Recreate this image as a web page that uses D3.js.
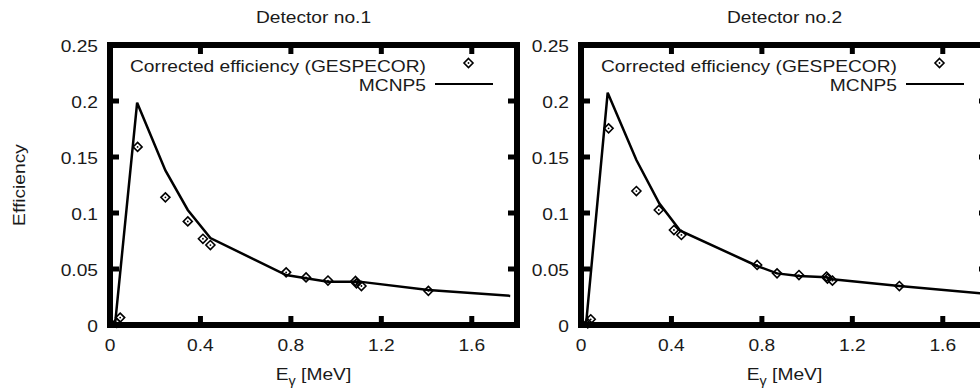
<!DOCTYPE html>
<html>
<head>
<meta charset="utf-8">
<script src="https://cdn.jsdelivr.net/npm/d3@7"></script>
<style>
  body { margin: 0; background: #fff; }
  text { font-family: "Liberation Sans", Arial, sans-serif; fill: #1a1a1a; }
</style>
</head>
<body>
<div id="chart"></div>
<script>
// tick values
var energyTicks = [0, 0.4, 0.8, 1.2, 1.6];
var effTicks = [0, 0.05, 0.1, 0.15, 0.2, 0.25];

// Detector no.1
var det1GesE   = [0.030, 0.045, 0.122, 0.245, 0.344, 0.411, 0.444, 0.779, 0.867, 0.964, 1.086, 1.090, 1.112, 1.408];
var det1GesEff = [0.0020, 0.0066, 0.159, 0.114, 0.0925, 0.077, 0.0714, 0.047, 0.0425, 0.0397, 0.0393, 0.0372, 0.0348, 0.0305];
var det1McnpE   = [0.022, 0.120, 0.245, 0.344, 0.444, 0.779, 0.867, 0.964, 1.086, 1.112, 1.408, 1.770];
var det1McnpEff = [0.000, 0.1985, 0.138, 0.1027, 0.0776, 0.0446, 0.0417, 0.0387, 0.0387, 0.0385, 0.0313, 0.026];

// Detector no.2
var det2GesE   = [0.030, 0.043, 0.122, 0.245, 0.344, 0.411, 0.444, 0.779, 0.867, 0.964, 1.086, 1.090, 1.112, 1.408];
var det2GesEff = [0.0015, 0.0051, 0.1756, 0.1196, 0.1027, 0.0848, 0.0804, 0.0536, 0.0461, 0.0446, 0.0432, 0.0415, 0.0396, 0.0348];
var det2McnpE   = [0.022, 0.118, 0.245, 0.346, 0.439, 0.779, 0.867, 0.964, 1.086, 1.112, 1.408, 1.770];
var det2McnpEff = [0.000, 0.2074, 0.1473, 0.1087, 0.0842, 0.0527, 0.0461, 0.0437, 0.0426, 0.0408, 0.0348, 0.0283];

var panels = [
    { title: "Detector no.1", left: 110, gesE: det1GesE, gesEff: det1GesEff, mcE: det1McnpE, mcEff: det1McnpEff },
    { title: "Detector no.2", left: 581, gesE: det2GesE, gesEff: det2GesEff, mcE: det2McnpE, mcEff: det2McnpEff }
];

var width = 980, height = 390;
var top_ = 45, bottom = 325, plotW = 407;
var frameW = 6, tickLen = 9, tickW = 5;
var stretch = 1.2;   // the original font is wider than Liberation Sans

var svg = d3.select("#chart").append("svg")
    .attr("width", width)
    .attr("height", height);

function label(g, x, y, str, anchor, size) {
    return g.append("text")
        .attr("transform", "translate(" + x + "," + y + ") scale(" + stretch + ",1)")
        .attr("text-anchor", anchor)
        .style("font-size", (size || 16) + "px")
        .text(str);
}

var diamond = "M0,-4.5L4.5,0L0,4.5L-4.5,0Z";

function marker(sel) {
    sel.append("path").attr("d", diamond).attr("fill", "none").attr("stroke", "#000").attr("stroke-width", 1.6);
    sel.append("circle").attr("r", 0.9).attr("fill", "#000");
}

panels.forEach(function (p) {
    var x = d3.scaleLinear().domain([0, 1.8]).range([p.left, p.left + plotW]);
    var y = d3.scaleLinear().domain([0, 0.25]).range([bottom, top_]);
    var g = svg.append("g");

    // tick labels
    energyTicks.forEach(function (t) {
        label(g, x(t), y(0) + 26, d3.format("")(t), "middle");
    });
    effTicks.forEach(function (t) {
        label(g, x(0) - 12, y(t) + 6.5, d3.format("")(t), "end");
    });

    // MCNP5 curve
    var line = d3.line()
        .x(function (d) { return x(d[0]); })
        .y(function (d) { return y(d[1]); });
    g.append("path")
        .datum(d3.zip(p.mcE, p.mcEff))
        .attr("d", line)
        .attr("fill", "none").attr("stroke", "#000").attr("stroke-width", 2.5)
        .attr("stroke-linejoin", "miter");

    // GESPECOR points
    g.selectAll("g.pt")
        .data(d3.zip(p.gesE, p.gesEff))
        .enter().append("g")
        .attr("class", "pt")
        .attr("transform", function (d) { return "translate(" + x(d[0]) + "," + y(d[1]) + ")"; })
        .call(marker);

    // legend
    var rx = x(1.8);
    label(g, rx - 91, top_ + 27, "Corrected efficiency (GESPECOR)", "end");
    g.append("g").attr("transform", "translate(" + (rx - 48.5) + "," + (top_ + 18) + ")").call(marker);
    label(g, rx - 91, top_ + 45.5, "MCNP5", "end");
    g.append("line").attr("x1", rx - 82).attr("x2", rx - 24).attr("y1", top_ + 39).attr("y2", top_ + 39)
        .attr("stroke", "#000").attr("stroke-width", 2);

    // title and x axis title
    var cx = (x(0) + x(1.8)) / 2;
    label(g, cx, 23, p.title, "middle");
    var xt = g.append("text")
        .attr("transform", "translate(" + cx + ",380) scale(" + stretch + ",1)")
        .attr("text-anchor", "middle")
        .style("font-size", "16px");
    xt.append("tspan").text("E");
    xt.append("tspan").attr("dy", 5).style("font-size", "12px").text("γ");
    xt.append("tspan").attr("dy", -5).text(" [MeV]");

    // heavy frame with inward ticks on all four sides
    g.append("rect")
        .attr("x", x(0)).attr("y", y(0.25))
        .attr("width", x(1.8) - x(0)).attr("height", y(0) - y(0.25))
        .attr("fill", "none").attr("stroke", "#000").attr("stroke-width", frameW);
    energyTicks.forEach(function (t) {
        g.append("line").attr("x1", x(t)).attr("x2", x(t)).attr("y1", y(0)).attr("y2", y(0) - tickLen)
            .attr("stroke", "#000").attr("stroke-width", tickW);
        g.append("line").attr("x1", x(t)).attr("x2", x(t)).attr("y1", y(0.25)).attr("y2", y(0.25) + tickLen)
            .attr("stroke", "#000").attr("stroke-width", tickW);
    });
    effTicks.forEach(function (t) {
        g.append("line").attr("x1", x(0)).attr("x2", x(0) + tickLen).attr("y1", y(t)).attr("y2", y(t))
            .attr("stroke", "#000").attr("stroke-width", tickW);
        g.append("line").attr("x1", x(1.8)).attr("x2", x(1.8) - tickLen).attr("y1", y(t)).attr("y2", y(t))
            .attr("stroke", "#000").attr("stroke-width", tickW);
    });
});

// y axis title
svg.append("text")
    .attr("transform", "translate(25,185) rotate(-90) scale(" + stretch + ",1)")
    .attr("text-anchor", "middle")
    .style("font-size", "16px")
    .text("Efficiency");
</script>
</body>
</html>
